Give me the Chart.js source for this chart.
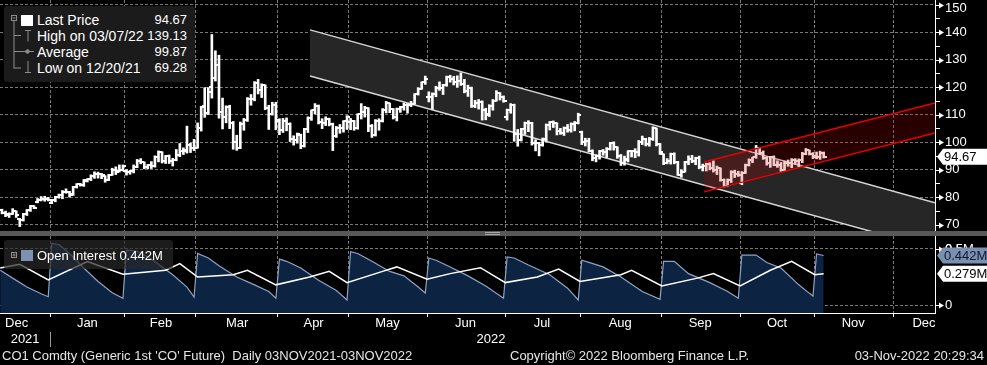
<!DOCTYPE html>
<html>
<head>
<meta charset="utf-8">
<script src="https://cdn.jsdelivr.net/npm/chart.js@4.4.1/dist/chart.umd.min.js"></script>
<style>
  body { margin: 0; background: #000; width: 987px; height: 365px; overflow: hidden; position: relative;
         font-family: 'Liberation Sans', Arial, sans-serif; color: #fff; }
  canvas { position: absolute; left: 0; }
  #price { top: 0; }
  #oi { top: 236px; }
  .sep { position: absolute; left: 0; top: 231px; width: 987px; height: 5px; background: #585858; }
  .grip { position: absolute; left: 485px; width: 15px; height: 1px; background: #a8a8a8; }
  .box { position: absolute; border-radius: 3px; }
  .t { position: absolute; white-space: nowrap; line-height: 16px; font-size: 14px; }
  .v { text-align: right; width: 60px; left: 127px; font-size: 13px; }
  .foot { position: absolute; top: 348px; font-size: 13px; line-height: 16px; color: #e6e6e6; white-space: pre; }
</style>
</head>
<body>
<canvas id="price" width="987" height="232"></canvas>
<div class="sep"></div>
<div class="grip" style="top:232px"></div>
<div class="grip" style="top:234px"></div>
<canvas id="oi" width="987" height="112"></canvas>

<!-- price legend -->
<div class="box" style="left:4px;top:6px;width:191px;height:76px;background:#1b1b1b"></div>
<svg style="position:absolute;left:0;top:0" width="40" height="82">
  <g stroke="#8c8c8c" fill="none" stroke-width="1">
    <rect x="11.5" y="15.5" width="5" height="5"/>
    <line x1="12.5" y1="18" x2="15.5" y2="18"/>
    <line x1="14" y1="21" x2="14" y2="68.5"/>
    <line x1="14" y1="35.5" x2="21" y2="35.5"/>
    <line x1="14" y1="51.5" x2="21" y2="51.5"/>
    <line x1="14" y1="68" x2="21" y2="68"/>
    <line x1="25" y1="30.5" x2="31" y2="30.5"/>
    <line x1="28" y1="30.5" x2="28" y2="41.5"/>
    <line x1="21" y1="51.5" x2="34" y2="51.5"/>
    <circle cx="27.5" cy="51.5" r="1.8" fill="#8c8c8c"/>
    <line x1="28" y1="61" x2="28" y2="72"/>
    <line x1="25" y1="72.5" x2="31" y2="72.5"/>
  </g>
  <rect x="21" y="15" width="12" height="11" fill="#fff"/>
</svg>
<div class="t" style="left:37px;top:12px">Last Price</div>
<div class="t v" style="top:12px">94.67</div>
<div class="t" style="left:37px;top:28px">High on 03/07/22</div>
<div class="t v" style="top:28px">139.13</div>
<div class="t" style="left:37px;top:44px">Average</div>
<div class="t v" style="top:44px">99.87</div>
<div class="t" style="left:37px;top:60px">Low on 12/20/21</div>
<div class="t v" style="top:60px">69.28</div>

<!-- open interest legend -->
<div class="box" style="left:4px;top:240px;width:169px;height:29px;background:rgba(40,40,40,0.7)"></div>
<svg style="position:absolute;left:0;top:240px" width="40" height="29">
  <g stroke="#8c8c8c" fill="none">
    <rect x="11.5" y="12.5" width="5" height="5"/>
    <line x1="12.5" y1="15" x2="15.5" y2="15"/>
    <line x1="14" y1="13.5" x2="14" y2="16.5"/>
  </g>
  <rect x="21" y="10" width="12" height="11" fill="#7d91b3"/>
</svg>
<div class="t" style="left:37px;top:248px;font-size:13px">Open Interest 0.442M</div>

<div class="foot" style="left:2px">CO1 Comdty (Generic 1st 'CO' Future)  Daily 03NOV2021-03NOV2022</div>
<div class="foot" style="left:510px">Copyright© 2022 Bloomberg Finance L.P.</div>
<div class="foot" style="right:3px">03-Nov-2022 20:29:34</div>

<script>
// trading-day axis: bar 0 = first session of January 2022
const xMin = -14.56;
const xMax = 248.3;
const firstBar = -14;

const monthEdges = [-0.5, 20.5, 40.5, 63.5, 83.5, 105.5, 127.5, 148.5, 171.5, 193.5, 214.5, 236.5];
const monthNames = ['Dec', 'Jan', 'Feb', 'Mar', 'Apr', 'May', 'Jun', 'Jul', 'Aug', 'Sep', 'Oct', 'Nov', 'Dec'];
const monthCentres = [-9.9, 10, 30.7, 52.1, 73.6, 94.4, 116.3, 137.8, 159.8, 182.3, 203.9, 225.3, 245.2];
const yearNames = ['2021', '2022'];
const yearCentres = [-7.5, 123.5];
const yearEdge = -0.5;

const priceTicks = [70, 75, 80, 85, 90, 95, 100, 105, 110, 115, 120, 125, 130, 135, 140, 145, 150];
const oiTicks = [0, 0.5];

// daily bars, Dec 13 2021 .. Nov 3 2022
const opens = [
  75.2, 74.3, 73.5, 74.0, 74.8, 72.0, 71.6, 73.9, 75.2, 76.6, 78.3, 78.9, 79.2, 79.3,
  77.8, 79.0, 80.0, 80.6, 82.0, 81.7, 81.0, 83.8, 84.6, 84.5, 86.0, 86.6, 87.6, 88.4, 88.4, 87.7, 86.3, 88.2, 89.9, 89.4, 90.0,
  89.5, 89.2, 89.6, 91.1, 93.3, 92.6, 91.0, 91.6, 91.4, 94.5, 96.4, 93.2, 94.8, 93.0, 93.5, 95.4, 96.8, 97.0, 99.0, 98.0,
  98.0, 105.0, 113.0, 110.5, 120.0, 123.2, 128.0, 111.0, 109.0, 112.6, 106.9, 100.0, 98.0, 106.6, 108.0, 115.6, 115.5, 121.6, 119.0, 120.6, 112.5, 110.2, 113.4,
  107.7, 104.4, 107.5, 106.6, 101.0, 100.6, 102.6, 98.5, 104.6, 108.8, 111.8, 113.2, 107.3, 106.8, 108.3, 106.6, 102.3, 105.0, 105.3, 107.6,
  107.4, 107.6, 105.0, 110.1, 110.9, 112.4, 105.9, 102.5, 107.5, 107.5, 111.6, 114.2, 111.9, 109.1, 112.0, 112.6, 113.4, 113.6, 114.0, 117.4, 119.4, 121.7,
  116.5, 116.3, 117.6, 119.7, 119.5, 120.6, 123.6, 123.1, 122.0, 122.3, 121.2, 118.5, 119.8, 113.1, 114.1, 114.6, 111.7, 110.0, 113.1, 115.1, 118.0, 116.3,
  109.0, 111.6, 113.5, 102.8, 100.7, 104.6, 107.0, 107.1, 99.5, 99.6, 99.1, 101.2, 106.3, 107.4, 106.9, 103.9, 103.2, 105.1, 104.4, 106.6, 107.1,
  103.5, 100.0, 100.5, 96.8, 94.1, 94.9, 96.6, 96.3, 97.4, 99.6, 98.1, 95.1, 92.3, 93.6, 96.6, 96.7, 96.5, 100.2, 101.2, 99.3, 101.0, 105.1, 99.3,
  95.6, 92.4, 93.0, 95.7, 92.8, 88.0, 89.2, 92.8, 94.0, 93.2, 94.1, 90.8, 91.3, 92.0, 90.6, 89.8, 90.5, 86.2, 84.1, 86.3, 89.3, 88.5,
  85.1, 88.9, 91.8, 93.4, 94.4, 97.9, 96.2, 94.3, 92.5, 94.6, 91.6, 91.6, 90.0, 92.4, 92.4, 93.5, 93.3, 93.5, 95.7, 97.0, 95.8,
  94.7, 94.7, 96.2
];
const highs = [
  75.6, 74.9, 74.3, 75.8, 75.0, 72.3, 74.1, 75.5, 77.0, 76.9, 79.5, 80.2, 80.3, 79.9,
  79.2, 80.3, 81.1, 82.4, 83.0, 82.1, 83.9, 84.9, 85.0, 86.4, 86.7, 88.1, 89.2, 89.1, 88.6, 87.8, 88.3, 90.5, 91.0, 91.7, 91.7,
  90.0, 89.7, 91.7, 93.7, 94.0, 92.8, 91.9, 92.9, 95.0, 96.8, 96.5, 95.2, 95.3, 94.1, 97.3, 99.5, 97.9, 105.8, 99.6, 101.0,
  107.0, 113.0, 119.8, 119.8, 139.13, 133.2, 131.6, 116.0, 113.2, 113.4, 107.5, 102.5, 107.3, 108.6, 116.2, 117.3, 122.0, 122.8, 121.2, 120.8, 113.4, 114.5, 114.5,
  108.5, 108.6, 108.8, 107.0, 102.3, 103.3, 102.9, 105.0, 109.2, 111.7, 114.0, 113.5, 108.5, 109.2, 108.7, 106.9, 105.7, 106.4, 107.8, 109.6,
  108.6, 107.9, 110.3, 114.0, 113.0, 112.5, 106.4, 108.2, 108.5, 112.2, 114.8, 114.2, 112.2, 112.4, 113.0, 114.2, 114.0, 114.8, 117.6, 119.8, 121.9, 124.0,
  118.3, 117.9, 120.3, 121.9, 121.0, 124.0, 124.3, 123.9, 124.1, 125.2, 122.8, 120.7, 120.0, 115.2, 115.5, 115.0, 112.3, 113.6, 115.5, 118.7, 118.0, 116.8,
  112.0, 114.0, 113.8, 104.6, 105.0, 107.3, 107.8, 107.2, 100.9, 99.9, 101.5, 106.6, 107.5, 107.7, 107.0, 105.0, 105.5, 106.4, 107.0, 107.5, 110.5,
  104.0, 101.4, 101.4, 97.2, 95.4, 97.0, 97.3, 98.0, 99.9, 100.1, 98.3, 95.5, 94.9, 96.9, 97.0, 97.6, 100.6, 102.2, 101.4, 101.7, 105.6, 105.1, 99.5,
  95.7, 94.0, 96.0, 96.1, 93.0, 90.0, 93.0, 95.0, 95.2, 94.5, 94.9, 92.0, 92.3, 92.5, 93.2, 91.3, 90.6, 86.6, 86.6, 89.6, 89.8, 89.4,
  89.3, 92.0, 93.9, 94.5, 98.8, 98.0, 96.8, 94.6, 94.8, 95.0, 93.2, 92.6, 93.1, 93.5, 94.0, 94.0, 93.9, 96.3, 97.7, 97.1, 96.2,
  96.4, 96.7, 96.4
];
const lows = [
  73.9, 72.9, 72.6, 73.7, 72.6, 69.28, 71.3, 73.3, 74.8, 75.8, 77.9, 78.6, 78.5, 78.6,
  77.6, 78.3, 79.6, 79.4, 81.4, 80.0, 80.6, 83.3, 84.0, 83.9, 85.5, 86.0, 86.8, 86.9, 86.7, 85.4, 86.0, 87.9, 88.2, 89.1, 89.5,
  88.0, 88.3, 88.8, 90.7, 92.1, 90.3, 90.3, 90.4, 90.9, 92.8, 92.4, 92.2, 92.2, 91.3, 93.2, 94.7, 95.5, 96.0, 96.2, 96.9,
  97.8, 104.0, 109.0, 110.0, 116.0, 122.2, 108.7, 104.8, 107.0, 104.9, 97.4, 97.0, 97.6, 104.3, 107.5, 113.4, 115.0, 117.5, 116.2, 111.8, 104.6, 109.8, 104.5,
  102.7, 103.5, 104.1, 100.2, 98.9, 99.6, 97.6, 98.2, 103.5, 107.9, 110.2, 106.6, 104.9, 106.0, 105.9, 96.9, 101.7, 103.2, 103.6, 104.6,
  104.5, 104.3, 104.7, 108.4, 109.1, 103.8, 101.7, 102.2, 104.3, 107.3, 110.6, 110.7, 108.4, 107.7, 110.8, 111.6, 110.5, 112.9, 113.8, 117.1, 119.2, 121.0,
  114.6, 111.9, 116.5, 118.8, 117.3, 120.3, 121.8, 120.8, 119.9, 120.6, 117.9, 116.6, 112.6, 112.5, 112.0, 108.0, 108.1, 109.3, 111.6, 114.9, 115.3, 114.5,
  108.0, 110.5, 100.3, 98.5, 100.4, 102.8, 103.8, 98.9, 96.8, 95.0, 98.5, 100.4, 104.4, 105.3, 102.6, 102.8, 102.4, 103.6, 103.6, 104.1, 106.6,
  99.1, 98.6, 96.5, 93.2, 92.8, 93.8, 95.2, 94.4, 97.1, 97.1, 94.1, 91.5, 91.6, 92.8, 94.6, 94.3, 94.9, 99.1, 98.6, 98.5, 100.6, 98.6, 95.5,
  91.8, 92.1, 92.0, 92.1, 87.9, 87.2, 89.1, 91.8, 92.5, 91.8, 90.3, 89.5, 89.5, 89.9, 89.1, 88.2, 85.8, 83.7, 84.0, 85.3, 87.1, 87.5,
  84.5, 88.6, 91.3, 92.5, 94.1, 95.5, 93.7, 91.6, 90.8, 91.4, 90.8, 89.3, 89.5, 91.2, 90.7, 91.9, 91.0, 92.5, 95.4, 95.3, 94.0,
  93.9, 93.7, 94.2
];
const closes = [
  74.4, 73.7, 73.9, 75.0, 73.5, 71.5, 74.0, 75.3, 76.9, 76.1, 78.9, 79.2, 79.3, 79.0,
  79.0, 80.0, 80.8, 82.0, 81.8, 80.9, 83.7, 84.7, 84.5, 86.1, 86.5, 87.5, 88.4, 88.4, 87.9, 86.3, 88.2, 90.0, 89.3, 90.0, 91.2,
  89.2, 89.5, 91.1, 93.3, 92.7, 90.8, 91.6, 91.4, 94.4, 96.5, 93.3, 94.8, 93.0, 93.5, 95.4, 96.8, 96.8, 99.1, 97.9, 98.0,
  105.0, 112.9, 110.5, 118.1, 123.2, 128.0, 111.1, 109.3, 112.7, 106.9, 99.9, 98.0, 106.6, 107.9, 115.6, 115.5, 121.6, 119.0, 120.7, 112.5, 110.2, 113.5, 107.9,
  104.4, 107.5, 106.6, 101.1, 100.6, 102.8, 98.5, 104.6, 108.8, 111.7, 113.2, 107.3, 106.8, 108.3, 106.7, 102.3, 105.0, 105.3, 107.6, 109.3,
  107.6, 105.0, 110.1, 110.9, 112.4, 105.9, 102.5, 107.5, 107.5, 111.6, 114.2, 111.9, 109.1, 112.0, 112.6, 113.4, 113.6, 114.0, 117.4, 119.4, 121.7, 122.8,
  116.3, 117.6, 119.7, 119.5, 120.6, 123.6, 123.1, 122.0, 122.3, 121.2, 118.5, 119.8, 113.1, 114.1, 114.7, 111.7, 110.1, 113.1, 115.1, 118.0, 116.3, 114.8,
  111.6, 113.5, 102.8, 100.7, 104.7, 107.0, 107.1, 99.5, 99.6, 99.1, 101.2, 106.3, 107.4, 106.9, 103.9, 103.2, 105.2, 104.4, 106.6, 107.1, 110.0,
  100.0, 100.5, 96.8, 94.1, 94.9, 96.7, 96.3, 97.4, 99.6, 98.2, 95.1, 92.3, 93.7, 96.6, 96.7, 96.5, 100.2, 101.2, 99.3, 101.0, 105.1, 99.3, 96.5,
  92.4, 93.0, 95.7, 92.8, 88.0, 89.2, 92.8, 94.0, 93.2, 94.1, 90.8, 91.4, 92.0, 90.6, 89.8, 90.5, 86.2, 84.1, 86.3, 89.3, 88.5, 88.0,
  88.9, 91.8, 93.4, 94.4, 97.9, 96.2, 94.3, 92.5, 94.6, 91.6, 91.6, 90.0, 92.4, 92.4, 93.5, 93.3, 93.5, 95.7, 97.0, 95.8, 94.8,
  94.7, 96.2, 94.67
];

// trend channels (end points)
const channelDays = [72.6, 248.3];
const channelUpper = [140.8, 77.9];
const channelLower = [124.0, 61.1];
const redDays = [183.4, 248.3];
const redUpper = [92.8, 114.2];
const redLower = [81.9, 103.3];

// open interest, millions
const oiDays = [-14.5, -11, -7, -3, -1, 0, 2, 5, 9, 13, 17, 20, 21, 24, 28, 34, 38, 40, 41, 44, 47, 52, 57, 61, 63,
  64, 66, 70, 75, 80, 83, 84, 86, 90, 95, 99, 103, 105, 106, 108, 112, 117, 122, 127, 128, 130, 134, 140, 145, 148,
  149, 151, 155, 160, 166, 171, 172, 175, 179, 185, 190, 193, 194, 198, 201, 205, 210, 213, 214, 215, 217];
const oiValues = [0.31, 0.24, 0.16, 0.10, 0.074, 0.55, 0.54, 0.46, 0.33, 0.21, 0.11, 0.06, 0.49, 0.48, 0.41, 0.27, 0.16, 0.07, 0.46, 0.42, 0.35, 0.25, 0.18, 0.12, 0.06,
  0.41, 0.39, 0.33, 0.22, 0.13, 0.045, 0.476, 0.46, 0.39, 0.30, 0.26, 0.16, 0.107, 0.42, 0.40, 0.34, 0.26, 0.17, 0.06, 0.43, 0.42, 0.357, 0.27, 0.15, 0.045,
  0.40, 0.38, 0.34, 0.25, 0.12, 0.05, 0.39, 0.39, 0.28, 0.20, 0.12, 0.06, 0.446, 0.446, 0.38, 0.33, 0.18, 0.104, 0.08, 0.455, 0.442];
const oi2Days = [-14.5, -9, -1, 10, 20, 32, 36, 41, 51, 55, 63, 72.5, 78, 83, 93, 97, 105.5, 112, 120.5, 127.5,
  136.5, 142.5, 148.5, 160, 163, 171.5, 181.5, 186, 193.5, 202, 208, 214.5, 217];
const oi2Values = [0.33, 0.363, 0.223, 0.387, 0.274, 0.31, 0.37, 0.25, 0.27, 0.31, 0.18, 0.25, 0.30, 0.20, 0.30, 0.34, 0.23, 0.28, 0.333, 0.20,
  0.25, 0.32, 0.21, 0.27, 0.31, 0.17, 0.24, 0.28, 0.17, 0.31, 0.39, 0.27, 0.279];

Chart.defaults.font.family = "'Liberation Sans', Arial, sans-serif";
Chart.defaults.font.size = 13;
Chart.defaults.color = '#ffffff';

const gridGrey = '#787878';
const labelFont = "13px 'Liberation Sans', Arial, sans-serif";
const pts = (xs, ys) => xs.map((x, i) => ({ x, y: ys[i] }));

function tickImage(left) {
  const c = document.createElement('canvas');
  c.width = 6; c.height = 2;
  const g = c.getContext('2d');
  g.fillStyle = '#fff';
  g.fillRect(left ? 0 : 3, 0, 3, 2);
  return c;
}

// arrow tick marks, clamped top label and last-value tags on the right axis
function axisMarks(isMajor, tags, extra) {
  return {
    id: 'axisMarks',
    afterDraw(chart) {
      const { ctx } = chart;
      const s = chart.scales.y;
      ctx.save();
      ctx.strokeStyle = '#fff';
      ctx.fillStyle = '#fff';
      ctx.lineWidth = 1;
      s.ticks.forEach((t, i) => {
        const y = Math.round(s.getPixelForValue(t.value)) + 0.5;
        ctx.beginPath(); ctx.moveTo(s.left, y); ctx.lineTo(s.left + 5, y); ctx.stroke();
        if (isMajor(t.value)) {
          ctx.beginPath();
          ctx.moveTo(s.left + 4, y - 3); ctx.lineTo(s.left + 9, y); ctx.lineTo(s.left + 4, y + 3);
          ctx.closePath(); ctx.fill();
        }
        if (i === s.ticks.length - 1 && isMajor(t.value)) {
          ctx.font = labelFont;
          ctx.textBaseline = 'middle';
          ctx.fillText(String(t.value), s.left + 10, Math.max(y, s.top + 8.5));
        }
      });
      tags.forEach(tag => {
        const y = s.getPixelForValue(tag.value);
        const x0 = s.left + 2;
        ctx.fillStyle = tag.bg;
        ctx.beginPath();
        ctx.moveTo(x0, y); ctx.lineTo(x0 + 6, y - 8); ctx.lineTo(chart.width, y - 8);
        ctx.lineTo(chart.width, y + 8); ctx.lineTo(x0 + 6, y + 8); ctx.closePath(); ctx.fill();
        ctx.fillStyle = tag.fg;
        ctx.font = labelFont;
        ctx.textBaseline = 'middle';
        ctx.fillText(tag.text, x0 + 7, y + 0.5);
      });
      if (extra) extra(chart);
      ctx.restore();
    }
  };
}

const barData = highs.map((h, i) => ({ x: firstBar + i, y: [lows[i], h] }));
const openData = opens.map((v, i) => ({ x: firstBar + i, y: v }));
const closeData = closes.map((v, i) => ({ x: firstBar + i, y: v }));
const lastClose = closes[closes.length - 1];

new Chart(document.getElementById('price'), {
  type: 'line',
  data: {
    datasets: [
      { label: 'Up channel top', data: pts(redDays, redUpper), borderColor: '#e80000', borderWidth: 1.5,
        pointRadius: 0, fill: '+1', backgroundColor: 'rgba(200,0,0,0.2)', order: 0.5 },
      { label: 'Up channel bottom', data: pts(redDays, redLower), borderColor: '#e80000', borderWidth: 1.5,
        pointRadius: 0, fill: false, order: 0 },
      { type: 'bar', label: 'High-Low', data: barData, backgroundColor: '#ffffff', barThickness: 2, order: 1 },
      { label: 'Open', data: openData, showLine: false, pointStyle: tickImage(true), pointRadius: 3, order: 1 },
      { label: 'Close', data: closeData, showLine: false, pointStyle: tickImage(false), pointRadius: 3, order: 1 },
      { label: 'Channel top', data: pts(channelDays, channelUpper), borderColor: '#d6d6d6', borderWidth: 1.5,
        pointRadius: 0, fill: '+1', backgroundColor: '#262626', order: 3 },
      { label: 'Channel bottom', data: pts(channelDays, channelLower), borderColor: '#d6d6d6', borderWidth: 1.5,
        pointRadius: 0, fill: false, order: 2 }
    ]
  },
  options: {
    responsive: false,
    animation: false,
    events: [],
    layout: { padding: 0, autoPadding: false },
    plugins: { legend: { display: false }, tooltip: { enabled: false } },
    scales: {
      x: {
        type: 'linear', min: xMin, max: xMax, offset: false, z: 1,
        afterBuildTicks: s => { s.ticks = monthEdges.map(v => ({ value: v })); },
        afterFit: s => { s.height = 0; s.paddingLeft = 0; s.paddingRight = 0; },
        ticks: { display: false },
        grid: { offset: false, color: gridGrey, drawTicks: false },
        border: { display: false, dash: [3, 2] }
      },
      y: {
        position: 'right', min: 67.31, max: 151.67, z: 1,
        afterBuildTicks: s => { s.ticks = priceTicks.map(v => ({ value: v })); },
        afterFit: s => { s.width = 52; s.paddingTop = 0; s.paddingBottom = 0; },
        ticks: { padding: 10, autoSkip: false,
                 callback: (v, i, ticks) => (v % 10 === 0 && i < ticks.length - 1 ? String(v) : '') },
        grid: { drawTicks: false, color: c => (c.tick && c.tick.value % 10 === 0 ? gridGrey : 'transparent') },
        border: { color: '#ffffff', dash: [3, 2] }
      }
    }
  },
  plugins: [axisMarks(v => v % 10 === 0, [{ value: lastClose, text: lastClose.toFixed(2), bg: '#ffffff', fg: '#000000' }])]
});

const monthTicks = monthEdges.concat(monthCentres).sort((a, b) => a - b);
const monthLabel = v => { const i = monthCentres.indexOf(v); return i < 0 ? '' : monthNames[i]; };
const isEdge = c => c.tick && monthEdges.includes(c.tick.value);
const lastOi = oiValues[oiValues.length - 1];
const lastOi2 = oi2Values[oi2Values.length - 1];

new Chart(document.getElementById('oi'), {
  type: 'line',
  data: {
    datasets: [
      { label: 'OI line', data: pts(oi2Days, oi2Values), borderColor: '#ffffff', borderWidth: 1.5, pointRadius: 0, fill: false },
      { label: 'Open Interest', data: pts(oiDays, oiValues), borderColor: '#8ea3c4', borderWidth: 1.2, pointRadius: 0,
        fill: 'start', backgroundColor: '#0c2442' }
    ]
  },
  options: {
    responsive: false,
    animation: false,
    events: [],
    layout: { padding: 0, autoPadding: false },
    plugins: { legend: { display: false }, tooltip: { enabled: false } },
    scales: {
      x: {
        type: 'linear', min: xMin, max: xMax, z: 1, weight: 0,
        afterBuildTicks: s => { s.ticks = monthTicks.map(v => ({ value: v })); },
        afterFit: s => { s.height = 18; s.paddingLeft = 0; s.paddingRight = 0; },
        ticks: { padding: -1, autoSkip: false, maxRotation: 0, minRotation: 0, callback: v => monthLabel(v) },
        grid: { color: c => (isEdge(c) ? gridGrey : 'transparent'), tickColor: c => (isEdge(c) ? '#ffffff' : 'transparent'), tickLength: 4 },
        border: { color: '#ffffff', dash: [3, 2] }
      },
      x2: {
        type: 'linear', position: 'bottom', min: xMin, max: xMax, weight: 1,
        afterBuildTicks: s => { s.ticks = yearCentres.map(v => ({ value: v })); },
        afterFit: s => { s.height = 17; s.paddingLeft = 0; s.paddingRight = 0; },
        ticks: { padding: 1, autoSkip: false, maxRotation: 0, minRotation: 0, callback: v => yearNames[yearCentres.indexOf(v)] || '' },
        grid: { display: false, drawTicks: false },
        border: { display: false }
      },
      y: {
        position: 'right', min: -0.0714, max: 0.616, z: 1,
        afterBuildTicks: s => { s.ticks = oiTicks.map(v => ({ value: v })); },
        afterFit: s => { s.width = 52; s.paddingTop = 0; s.paddingBottom = 0; },
        ticks: { padding: 10, autoSkip: false, callback: v => (v === 0 ? '0' : v + 'M') },
        grid: { drawTicks: false, color: gridGrey },
        border: { color: '#ffffff', dash: [3, 2] }
      }
    }
  },
  plugins: [axisMarks(() => true, [
    { value: lastOi, text: lastOi.toFixed(3) + 'M', bg: '#7b8fb0', fg: '#0d1b33' },
    { value: lastOi2, text: lastOi2.toFixed(3) + 'M', bg: '#ffffff', fg: '#000000' }
  ], chart => {
    const s2 = chart.scales.x2;
    const x = Math.round(s2.getPixelForValue(yearEdge)) + 0.5;
    chart.ctx.strokeStyle = '#9a9a9a';
    chart.ctx.beginPath();
    chart.ctx.moveTo(x, s2.top + 1);
    chart.ctx.lineTo(x, s2.bottom - 1);
    chart.ctx.stroke();
  })]
});
</script>
</body>
</html>
